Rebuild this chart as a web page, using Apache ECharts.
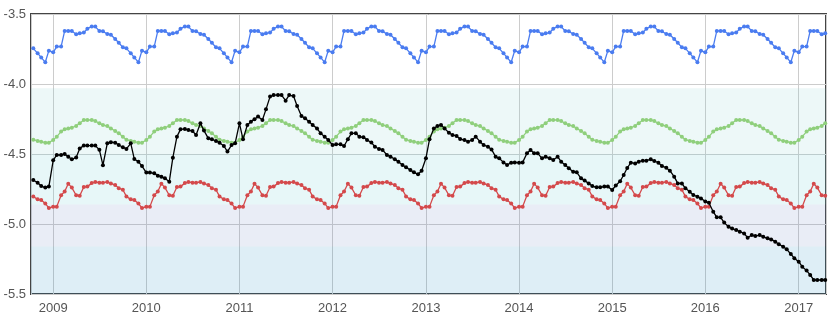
<!DOCTYPE html>
<html><head><meta charset="utf-8">
<script src="https://cdn.jsdelivr.net/npm/echarts@6/dist/echarts.min.js"></script>
<style>html,body{margin:0;padding:0;background:#fff}#c{width:828px;height:316px}</style>
</head><body><div id="c"></div>
<script>
// Semi-monthly observation dates (1st and 15th), Oct 15 2008 .. Apr 15 2017
const firstDate = [2008, 10, 15];
const lastDate = [2017, 4, 15];
const xMin = '2008-10-06';
const xMax = '2017-04-18';
const yTicks = [-5.5, -5.0, -4.5, -4.0, -3.5];

// Seasonal cycles (Jan 1, Jan 15, Feb 1, ... Dec 15)
const blueCycle = [-3.774, -3.733, -3.733, -3.621, -3.621, -3.621, -3.645, -3.638, -3.633, -3.605, -3.590, -3.590,
                   -3.621, -3.624, -3.643, -3.648, -3.679, -3.705, -3.738, -3.745, -3.781, -3.810, -3.845, -3.762];
const greenCycle = [-4.400, -4.376, -4.340, -4.324, -4.317, -4.312, -4.300, -4.281, -4.257, -4.257, -4.257, -4.264,
                    -4.281, -4.293, -4.300, -4.317, -4.336, -4.352, -4.376, -4.398, -4.407, -4.412, -4.419, -4.419];
const redCycle = [-4.876, -4.876, -4.795, -4.768, -4.712, -4.740, -4.795, -4.798, -4.736, -4.733, -4.708, -4.700,
                  -4.705, -4.705, -4.700, -4.710, -4.722, -4.745, -4.755, -4.803, -4.824, -4.829, -4.853, -4.886];

// Observed series
const black2008 = [-4.686, -4.705, -4.729, -4.740, -4.733];
const black2009 = [-4.545, -4.507, -4.507, -4.500, -4.519, -4.538, -4.525, -4.460, -4.440, -4.440, -4.440, -4.440,
                   -4.470, -4.580, -4.424, -4.416, -4.419, -4.436, -4.452, -4.464, -4.424, -4.536, -4.555, -4.586];
const black2010 = [-4.633, -4.633, -4.638, -4.655, -4.662, -4.674, -4.698, -4.526, -4.376, -4.324, -4.321, -4.329,
                   -4.336, -4.364, -4.281, -4.333, -4.388, -4.395, -4.407, -4.419, -4.443, -4.483, -4.436, -4.424];
const black2011 = [-4.281, -4.395, -4.293, -4.269, -4.252, -4.233, -4.257, -4.181, -4.090, -4.079, -4.079, -4.079,
                   -4.119, -4.079, -4.086, -4.157, -4.229, -4.245, -4.269, -4.293, -4.317, -4.352, -4.376, -4.400];
const black2012 = [-4.436, -4.431, -4.431, -4.443, -4.395, -4.352, -4.352, -4.376, -4.381, -4.400, -4.417, -4.448,
                   -4.464, -4.471, -4.507, -4.519, -4.538, -4.555, -4.579, -4.595, -4.615, -4.631, -4.645, -4.620];
const black2013 = [-4.530, -4.395, -4.317, -4.300, -4.293, -4.317, -4.348, -4.364, -4.371, -4.393, -4.400, -4.412,
                   -4.400, -4.376, -4.412, -4.436, -4.448, -4.467, -4.519, -4.531, -4.560, -4.579, -4.562, -4.560];
const black2014 = [-4.562, -4.560, -4.495, -4.471, -4.495, -4.495, -4.531, -4.519, -4.531, -4.543, -4.519, -4.555,
                   -4.579, -4.602, -4.626, -4.631, -4.674, -4.690, -4.710, -4.729, -4.738, -4.738, -4.733, -4.733];
const black2015 = [-4.757, -4.725, -4.695, -4.650, -4.600, -4.562, -4.567, -4.555, -4.548, -4.548, -4.538, -4.550,
                   -4.562, -4.586, -4.598, -4.619, -4.662, -4.710, -4.710, -4.745, -4.769, -4.793, -4.805, -4.817];
const black2016 = [-4.840, -4.848, -4.912, -4.952, -4.952, -4.990, -5.019, -5.033, -5.043, -5.055, -5.067, -5.098,
                   -5.079, -5.086, -5.079, -5.091, -5.102, -5.110, -5.126, -5.145, -5.162, -5.181, -5.214, -5.245];
const black2017 = [-5.269, -5.305, -5.333, -5.364, -5.400, -5.400, -5.400, -5.400];

// Background bands [from, to, colour]
const bands = [
  [-4.03, -4.50, 'rgba(128,202,202,0.14)'],
  [-4.50, -4.86, 'rgba(110,205,215,0.17)'],
  [-4.86, -5.16, 'rgba(108,135,195,0.15)'],
  [-5.16, -5.50, 'rgba(35,142,195,0.15)']
];

function pad(n){return (n<10?'0':'')+n;}
const dates = [], cycIdx = [];
for (let y = firstDate[0]; y <= lastDate[0]; y++) {
  for (let m = 1; m <= 12; m++) {
    for (const d of [1, 15]) {
      const key = y*10000 + m*100 + d;
      if (key < firstDate[0]*10000+firstDate[1]*100+firstDate[2]) continue;
      if (key > lastDate[0]*10000+lastDate[1]*100+lastDate[2]) continue;
      dates.push(y + '-' + pad(m) + '-' + pad(d));
      cycIdx.push((m-1)*2 + (d === 15 ? 1 : 0));
    }
  }
}
const blackVals = [].concat(black2008, black2009, black2010, black2011, black2012, black2013, black2014, black2015, black2016, black2017);
const blueData = dates.map((d,i)=>[d, blueCycle[cycIdx[i]]]);
const greenData = dates.map((d,i)=>[d, greenCycle[cycIdx[i]]]);
const redData = dates.map((d,i)=>[d, redCycle[cycIdx[i]]]);
const blackData = dates.map((d,i)=>[d, blackVals[i]]);

function lineSeries(name, data, color, z) {
  return {
    name, type: 'line', data, z,
    symbol: 'circle', symbolSize: 4, showAllSymbol: true,
    lineStyle: {color, width: 1.3}, itemStyle: {color},
    emphasis: {disabled: true}
  };
}

const blueS = lineSeries('blue', blueData, '#4a7cf0', 3);
blueS.markArea = {
  silent: true,
  data: bands.map(b => [{yAxis: b[0], itemStyle: {color: b[2]}}, {yAxis: b[1]}])
};

const chart = echarts.init(document.getElementById('c'), null, {renderer: 'canvas'});
chart.setOption({
  animation: false,
  grid: {left: 31, right: 2, top: 14, bottom: 22, show: true, borderColor: '#444', borderWidth: 2, backgroundColor: 'transparent'},
  xAxis: {
    type: 'time', min: xMin, max: xMax,
    splitNumber: 9,
    minInterval: 365*24*3600*1000, maxInterval: 366*24*3600*1000,
    axisLine: {show: false}, axisTick: {show: false},
    axisLabel: {formatter: '{yyyy}', color: '#555', fontSize: 13, fontFamily: 'Liberation Sans, Arial, sans-serif', margin: 8, showMinLabel: false, showMaxLabel: false},
    splitLine: {show: true, lineStyle: {color: '#cccccc', width: 1}}
  },
  yAxis: {
    type: 'value', min: yTicks[0], max: yTicks[yTicks.length-1], interval: 0.5,
    axisLine: {show: false}, axisTick: {show: false},
    axisLabel: {formatter: v => v.toFixed(1), color: '#555', fontSize: 13, fontFamily: 'Liberation Sans, Arial, sans-serif', margin: 5},
    splitLine: {show: true, lineStyle: {color: '#cccccc', width: 1}}
  },
  series: [
    blueS,
    lineSeries('green', greenData, '#8fcf7c', 3),
    lineSeries('red', redData, '#d4494b', 3),
    lineSeries('black', blackData, '#000000', 4)
  ]
});
</script></body></html>
